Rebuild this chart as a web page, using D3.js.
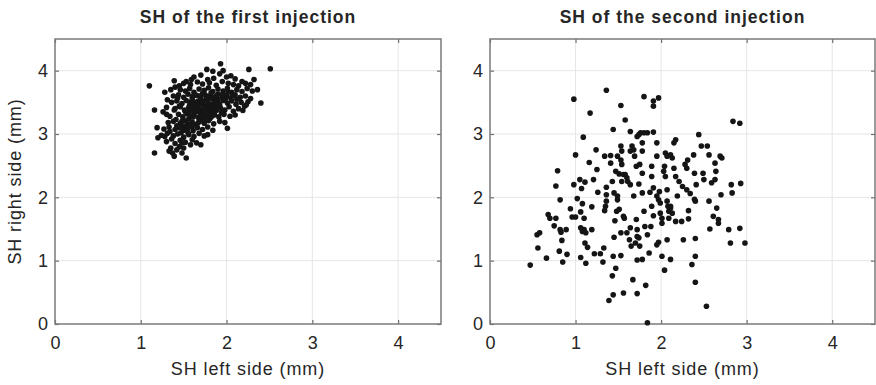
<!DOCTYPE html>
<html>
<head>
<meta charset="utf-8">
<script src="https://cdn.jsdelivr.net/npm/d3@7"></script>
<style>
  html, body { margin: 0; padding: 0; background: #fff; }
  svg { display: block; }
  text { font-family: "Liberation Sans", Arial, sans-serif; fill: #262626; }
</style>
</head>
<body>
<svg id="chart" width="876" height="385"></svg>
<script>
// Axis settings shared by both panels
const axisDomain = [0, 4.5];
const tickValues = [0, 1, 2, 3, 4];
const xLabel = "SH left side (mm)";
const yLabel = "SH right side (mm)";
const panelTitles = ["SH of the first injection", "SH of the second injection"];

// First injection: left-side vs right-side SH (mm)
const firstLeft = [
  1.10,1.16,1.16,1.19,1.20,1.26,1.28,1.28,1.30,1.31,1.33,1.34,1.36,1.37,1.39,1.39,1.40,1.39,1.41,1.43,1.45,1.47,1.48,1.48,1.49,1.53,1.53,1.59,1.58,1.70,1.77,1.84,1.93,1.96,2.26,2.51,2.40,2.36,2.01,1.78,2.32,2.28,2.21,2.25,
  1.62,1.70,1.85,1.92,2.00,2.05,2.10,1.78,2.18,
  1.50,1.58,1.66,1.72,1.80,1.88,1.95,2.02,2.08,2.14,2.22,1.45,
  1.46,1.52,1.57,1.62,1.68,1.74,1.79,1.84,1.90,1.96,2.01,2.06,2.12,2.18,2.24,2.30,1.35,
  1.38,1.44,1.50,1.55,1.60,1.65,1.70,1.75,1.80,1.85,1.90,1.95,2.00,2.05,2.10,2.16,2.22,2.28,1.72,1.82,
  1.36,1.42,1.48,1.53,1.58,1.63,1.67,1.72,1.77,1.81,1.86,1.91,1.96,2.01,2.06,2.11,2.17,2.23,1.74,1.88,1.60,
  1.30,1.40,1.46,1.51,1.56,1.61,1.66,1.70,1.75,1.79,1.84,1.88,1.93,1.98,2.03,2.08,2.14,2.19,1.64,1.82,
  1.34,1.44,1.49,1.54,1.58,1.62,1.67,1.72,1.76,1.81,1.86,1.91,1.97,2.04,2.10,1.56,1.70,
  1.32,1.38,1.46,1.51,1.55,1.60,1.65,1.69,1.74,1.79,1.85,1.92,1.98,1.53,
  1.27,1.33,1.40,1.45,1.50,1.55,1.61,1.66,1.72,1.78,1.84,1.42,
  1.24,1.31,1.38,1.43,1.50,1.56,1.62,1.68,1.74,
  1.30,1.40,1.46,1.52,1.60,1.65,1.45,
  1.42,1.50,1.35,
  1.68,1.73,1.78,1.83,1.69,1.76,1.85,1.90,1.64,1.71,1.80,1.87,1.62,1.77,1.92,1.66,1.58,1.74,1.82,
  1.69,1.95,1.86,1.61,1.57,1.79,1.99,2.02,1.73,1.67,1.83,1.52,1.88,1.60,1.55,1.48,1.94,2.07,2.12
];
const firstRight = [
  3.76,3.38,2.70,3.10,2.94,3.35,2.96,3.66,3.31,3.54,2.73,3.04,2.92,2.70,2.65,3.84,3.74,3.38,3.23,3.57,3.44,3.02,2.86,2.70,3.12,2.62,3.83,3.86,2.83,2.83,4.02,3.99,4.11,4.00,4.02,4.03,3.49,3.70,3.09,2.99,3.86,3.78,3.44,3.51,
  3.90,3.93,3.88,3.95,3.90,3.92,3.87,3.86,3.83,
  3.80,3.78,3.82,3.79,3.81,3.77,3.83,3.80,3.78,3.76,3.80,3.76,
  3.70,3.68,3.72,3.66,3.71,3.69,3.73,3.67,3.71,3.68,3.72,3.66,3.70,3.67,3.72,3.68,3.70,
  3.60,3.62,3.58,3.63,3.59,3.61,3.57,3.62,3.60,3.58,3.63,3.59,3.61,3.57,3.62,3.58,3.60,3.56,3.64,3.65,
  3.50,3.52,3.48,3.53,3.50,3.47,3.52,3.49,3.54,3.47,3.51,3.48,3.53,3.49,3.52,3.47,3.50,3.46,3.45,3.44,3.55,
  3.42,3.40,3.43,3.38,3.42,3.39,3.44,3.37,3.41,3.38,3.42,3.37,3.41,3.38,3.43,3.36,3.40,3.37,3.35,3.34,
  3.28,3.31,3.27,3.32,3.28,3.30,3.26,3.31,3.28,3.25,3.30,3.27,3.31,3.28,3.30,3.24,3.22,
  3.18,3.20,3.17,3.21,3.16,3.19,3.15,3.20,3.17,3.21,3.16,3.20,3.18,3.13,
  3.08,3.11,3.07,3.10,3.06,3.09,3.05,3.10,3.07,3.11,3.06,3.13,
  2.98,3.01,2.97,3.00,2.95,2.99,2.96,3.01,2.97,
  2.88,2.85,2.90,2.87,2.91,2.86,2.80,
  2.75,2.78,2.78,
  3.45,3.52,3.43,3.47,3.33,3.36,3.39,3.55,3.50,3.29,3.31,3.53,3.42,3.58,3.46,3.38,3.36,3.24,3.56,
  3.60,3.62,3.35,3.27,3.46,3.48,3.56,3.66,3.40,3.18,3.28,3.35,3.60,3.12,3.02,3.20,3.34,3.60,3.55
];

// Second injection: left-side vs right-side SH (mm)
const secondLeft = [
  0.47,0.55,0.58,0.56,0.66,0.68,0.70,0.77,0.75,0.77,0.79,0.82,0.82,0.83,0.84,0.81,0.85,0.89,0.90,0.94,0.96,1.00,
  0.98,1.00,0.98,1.02,1.05,1.07,1.08,1.06,1.06,1.08,1.10,1.12,1.06,1.12,1.11,1.09,1.11,1.10,1.16,1.17,1.14,
  1.21,1.19,1.19,1.22,1.24,1.25,1.26,1.29,1.32,1.33,1.34,1.35,1.34,1.36,1.36,1.36,1.36,1.39,1.41,1.41,1.43,
  1.44,1.43,1.44,1.44,1.45,1.45,1.46,1.47,1.47,1.49,1.49,1.49,1.48,1.51,1.51,1.53,1.53,1.54,1.53,1.54,1.53,
  1.53,1.54,1.56,1.56,1.58,1.56,1.57,1.58,1.60,1.61,1.60,1.63,1.64,1.64,1.66,1.68,1.64,1.64,1.65,1.67,1.68,
  1.69,1.71,1.72,1.74,1.76,1.80,1.84,1.78,1.71,1.72,1.72,1.74,1.70,1.75,1.72,1.78,1.72,1.78,1.75,1.78,1.74,
  1.78,1.80,1.80,1.81,1.84,1.82,1.86,1.87,1.88,1.84,1.91,1.91,1.97,1.91,1.89,1.89,1.91,1.89,1.91,1.95,1.97,
  1.95,1.95,1.95,1.97,1.99,1.98,1.99,2.01,2.01,2.01,2.04,2.03,2.04,2.05,2.07,2.05,2.07,2.08,2.09,2.11,2.07,
  2.07,2.11,2.11,2.13,2.09,2.11,2.13,2.15,2.17,2.15,2.17,2.17,2.19,2.21,2.25,2.24,2.26,2.28,2.30,2.30,2.31,
  2.32,2.32,2.34,2.36,2.38,2.39,2.41,2.39,2.40,2.40,2.40,2.40,2.44,2.47,2.49,2.50,2.53,2.54,2.56,2.56,2.57,
  2.59,2.61,2.63,2.64,2.63,2.65,2.67,2.67,2.69,2.71,2.70,2.79,2.81,2.83,2.82,2.84,2.92,2.92,2.93,2.98
];
const secondRight = [
  0.93,1.41,1.44,1.20,1.04,1.73,1.67,1.67,1.55,2.18,2.42,1.96,1.49,1.45,1.32,1.15,0.98,1.49,1.10,1.82,1.69,1.69,
  3.55,2.67,2.20,1.98,2.28,2.14,1.90,1.77,1.52,1.46,1.49,1.44,1.05,0.96,1.28,2.95,2.24,1.67,2.55,3.33,1.21,
  2.28,1.85,1.49,1.11,2.75,2.44,2.08,1.11,0.98,1.20,1.79,1.86,2.65,1.94,2.04,2.16,3.69,0.37,2.66,2.54,2.25,
  3.07,0.76,0.46,1.07,1.37,2.07,1.63,0.88,2.41,2.65,2.02,1.96,1.78,1.81,2.37,3.45,2.81,2.73,2.59,2.52,1.44,
  1.08,2.25,2.36,0.49,3.22,1.70,1.67,2.36,2.31,2.25,1.44,1.33,3.04,2.73,2.81,2.75,2.20,1.52,1.23,0.70,2.02,
  2.65,2.49,2.96,2.99,3.02,3.02,3.02,2.86,1.65,1.49,1.38,1.36,1.28,1.23,1.01,1.02,0.48,2.73,2.52,2.38,2.21,
  2.07,3.59,1.78,1.54,1.41,0.61,1.12,2.08,1.54,0.02,3.44,3.52,3.57,3.03,2.49,2.33,2.15,1.86,1.71,1.25,1.29,
  2.86,2.65,2.02,1.96,1.91,2.09,1.75,1.67,1.59,1.07,0.85,2.41,2.49,2.70,2.65,2.33,1.94,1.86,1.78,1.86,2.12,
  1.33,1.02,1.83,1.75,1.67,2.67,2.62,2.86,2.91,2.46,2.33,1.62,2.02,2.25,2.17,1.62,1.33,2.52,2.46,2.12,2.59,
  1.79,1.66,2.06,0.94,2.67,2.38,2.20,1.97,1.94,1.35,1.07,0.66,2.99,2.81,2.38,2.28,0.28,2.81,2.67,1.94,1.50,
  2.23,1.70,2.54,2.41,2.28,1.83,1.65,1.59,2.65,2.62,2.04,1.49,1.28,2.07,2.20,3.20,3.17,1.51,2.22,1.28
];

const panels = [
  { title: panelTitles[0], xs: firstLeft, ys: firstRight, x0: 55, x1: 441, showYLabel: true },
  { title: panelTitles[1], xs: secondLeft, ys: secondRight, x0: 490, x1: 875, showYLabel: false }
];
const plotTop = 39, plotBottom = 324;

const svg = d3.select("#chart");

panels.forEach(p => {
  const x = d3.scaleLinear().domain(axisDomain).range([p.x0, p.x1]);
  const y = d3.scaleLinear().domain(axisDomain).range([plotBottom, plotTop]);
  const g = svg.append("g");

  // light grid
  g.append("g").selectAll("line").data(tickValues.slice(1)).join("line")
    .attr("x1", d => x(d)).attr("x2", d => x(d))
    .attr("y1", plotTop).attr("y2", plotBottom)
    .attr("stroke", "#e6e6e6").attr("stroke-width", 1);
  g.append("g").selectAll("line").data(tickValues.slice(1)).join("line")
    .attr("x1", p.x0).attr("x2", p.x1)
    .attr("y1", d => y(d)).attr("y2", d => y(d))
    .attr("stroke", "#e6e6e6").attr("stroke-width", 1);

  // axes with inward ticks
  const bx = g.append("g").attr("transform", `translate(0,${plotBottom})`)
    .call(d3.axisBottom(x).tickValues(tickValues).tickFormat(d3.format("d")).tickSize(-4).tickPadding(12));
  const ly = g.append("g").attr("transform", `translate(${p.x0},0)`)
    .call(d3.axisLeft(y).tickValues(tickValues).tickFormat(d3.format("d")).tickSize(-4).tickPadding(7));
  const tx = g.append("g").attr("transform", `translate(0,${plotTop})`)
    .call(d3.axisTop(x).tickValues(tickValues).tickFormat("").tickSize(-4));
  const ry = g.append("g").attr("transform", `translate(${p.x1},0)`)
    .call(d3.axisRight(y).tickValues(tickValues).tickFormat("").tickSize(-4));
  [bx, ly, tx, ry].forEach(a => {
    a.select(".domain").remove();
    a.selectAll(".tick line").attr("stroke", "#707070").attr("stroke-width", 1.2);
    a.selectAll(".tick text")
      .attr("font-family", "'Liberation Sans', Arial, sans-serif")
      .attr("font-size", 18).attr("fill", "#262626");
  });

  // frame
  g.append("rect")
    .attr("x", p.x0).attr("y", plotTop)
    .attr("width", p.x1 - p.x0).attr("height", plotBottom - plotTop)
    .attr("fill", "none").attr("stroke", "#7a7a7a").attr("stroke-width", 1.5);

  // points
  g.append("g").selectAll("circle").data(p.xs.map((v, i) => [v, p.ys[i]])).join("circle")
    .attr("cx", d => x(d[0])).attr("cy", d => y(d[1]))
    .attr("r", 2.8).attr("fill", "#151515");

  // title
  g.append("text")
    .attr("x", (p.x0 + p.x1) / 2).attr("y", 23)
    .attr("text-anchor", "middle")
    .attr("font-size", 17.5).attr("font-weight", "bold")
    .attr("letter-spacing", 1)
    .text(p.title);

  // x label
  g.append("text")
    .attr("x", (p.x0 + p.x1) / 2).attr("y", 375)
    .attr("text-anchor", "middle")
    .attr("font-size", 18).attr("letter-spacing", 0.9)
    .text(xLabel);

  if (p.showYLabel) {
    g.append("text")
      .attr("transform", `translate(21,${(plotTop + plotBottom) / 2}) rotate(-90)`)
      .attr("text-anchor", "middle")
      .attr("font-size", 18).attr("letter-spacing", 0.9)
      .text(yLabel);
  }
});
</script>
</body>
</html>
